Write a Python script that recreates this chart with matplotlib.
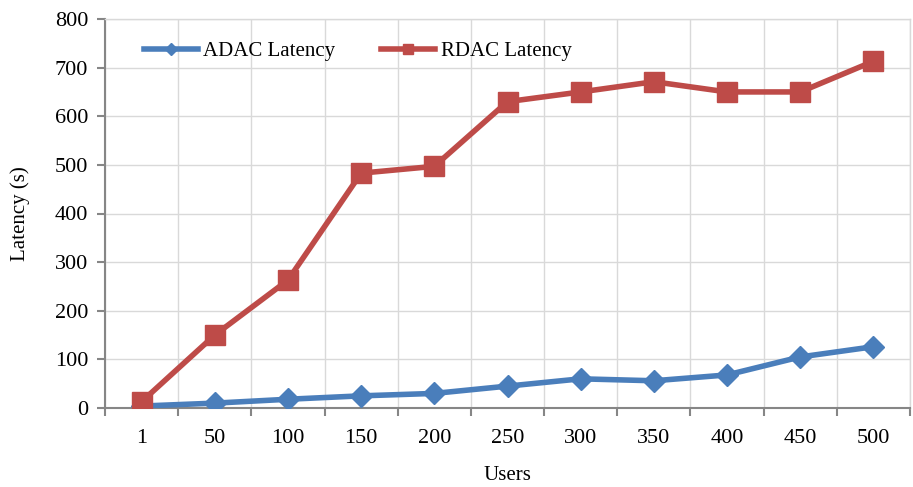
import numpy as np
import matplotlib
matplotlib.use("Agg")
import matplotlib.pyplot as plt
from matplotlib.ticker import FixedLocator, MultipleLocator

users = ["1", "50", "100", "150", "200", "250", "300", "350", "400", "450", "500"]
adacLatency = [4, 10, 18, 25, 30, 45, 60, 56, 68, 105, 126]
rdacLatency = [13, 150, 263, 483, 497, 630, 650, 671, 650, 650, 713]

plt.rcParams["font.family"] = ["Liberation Serif", "DejaVu Serif"]
plt.rcParams["font.size"] = 15

fig = plt.figure(figsize=(9.13, 4.87), dpi=100)
ax = fig.add_axes([105/913, 1 - 408/487, (910 - 105)/913, (408 - 19)/487])

xPos = np.arange(len(users))
ax.plot(xPos, adacLatency, color="#4a7ebb", lw=4, marker="D", ms=11.5, label="ADAC Latency", zorder=3)
ax.plot(xPos, rdacLatency, color="#be4b48", lw=4, marker="s", ms=14, label="RDAC Latency", zorder=3)

ax.set_xlim(-0.5, len(users) - 0.5)
ax.set_ylim(0, 800)
ax.yaxis.set_major_locator(MultipleLocator(100))
ax.set_xticks(xPos)
ax.set_xticklabels(users)
ax.xaxis.set_minor_locator(FixedLocator(np.arange(-0.5, len(users), 1.0)))
ax.tick_params(axis="x", which="major", length=0, pad=15, labelsize=16)
ax.tick_params(axis="x", which="minor", length=6, width=1.5, color="#868686", direction="out")
ax.tick_params(axis="y", length=6, width=1.5, color="#868686", direction="out", pad=6, labelsize=16)

ax.grid(True, axis="y", color="#d9d9d9", lw=1)
ax.grid(True, axis="x", which="minor", color="#d9d9d9", lw=1)
ax.set_axisbelow(True)

for side in ["top", "right"]:
    ax.spines[side].set_color("#d9d9d9")
    ax.spines[side].set_linewidth(1)
for side in ["left", "bottom"]:
    ax.spines[side].set_color("#868686")
    ax.spines[side].set_linewidth(1.5)

ax.set_xlabel("Users", va="center")
ax.xaxis.set_label_coords(0.5, (408 - 475) / 389)
ax.set_ylabel("Latency (s)", va="center")
ax.yaxis.set_label_coords((20 - 105) / 805, 0.5)

ax.legend(loc="upper left", bbox_to_anchor=(0.025, 0.99), ncol=2, frameon=False,
          handlelength=2.6, handletextpad=0.25, columnspacing=2.2, markerscale=0.5)

fig.savefig("out.png", dpi=100)
